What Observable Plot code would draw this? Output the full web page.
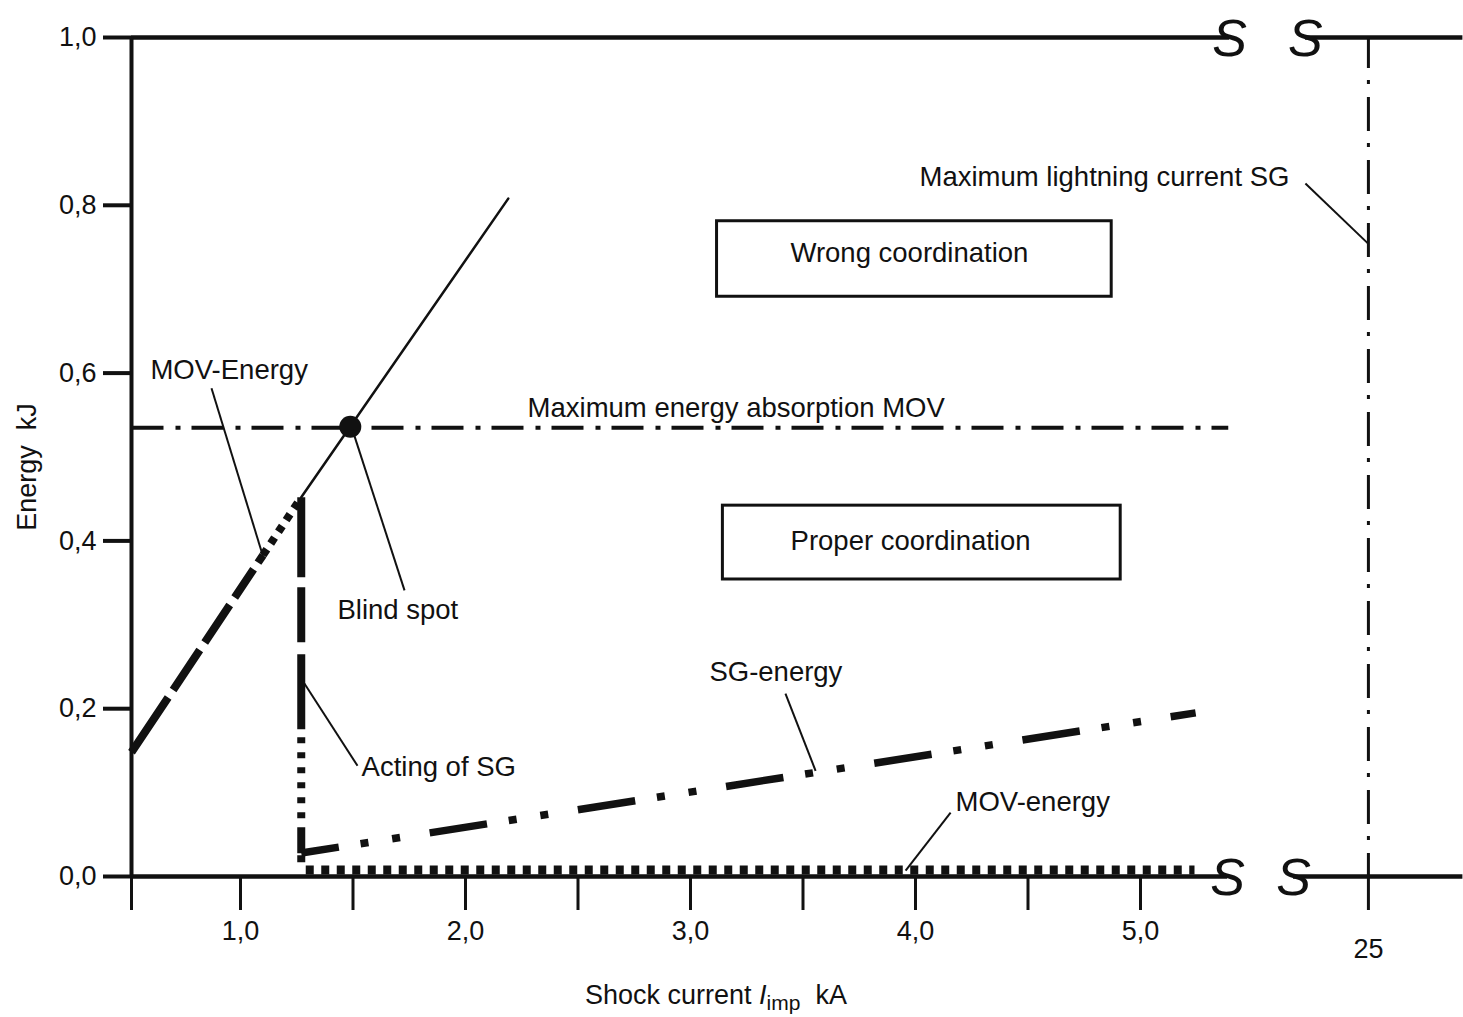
<!DOCTYPE html>
<html>
<head>
<meta charset="utf-8">
<script src="https://cdn.jsdelivr.net/npm/d3@7"></script>
<script src="https://cdn.jsdelivr.net/npm/@observablehq/plot@0.6"></script>
<style>
  html, body { margin: 0; padding: 0; background: #fff; }
  #chart { position: absolute; left: 0; top: 0; }
</style>
</head>
<body>
<div id="chart"></div>
<script>
// ---------- data (kA / kJ) ----------
const xBreakDomain = [0.5, 1.0, 5.6, 24.587, 25.42];   // broken axis: 5.6 … 24.587 collapsed
const yTicks = [0, 0.2, 0.4, 0.6, 0.8, 1.0];
const xMajorTicks = [1, 2, 3, 4, 5];
const xMinorTicks = [0.5, 1.5, 2.5, 3.5, 4.5];
const xFarTicks = [25];

const movRiseDashed = [{x: 0.5, y: 0.148}, {x: 1.10, y: 0.383}];
const movRiseDotted = [{x: 1.10, y: 0.383}, {x: 1.27, y: 0.452}];
const movRiseThin   = [{x: 1.27, y: 0.452}, {x: 2.19, y: 0.808}];
const sgActing      = [{x: 1.27, y: 0.452}, {x: 1.27, y: 0.015}];
const sgEnergy      = [{x: 1.27, y: 0.028}, {x: 5.245, y: 0.195}];
const movResidual   = [{x: 1.29, y: 0.0078}, {x: 5.24, y: 0.0078}];
const movMaxEnergy  = [{x: 0.5, y: 0.535}, {x: 5.39, y: 0.535}];
const sgMaxCurrent  = [25];
const blindSpot     = [{x: 1.488, y: 0.536}];

const boxX1 = [3.118, 3.144];
const boxX2 = [4.872, 4.912];
const boxY1 = [0.691, 0.354];
const boxY2 = [0.781, 0.442];
const boxText  = ["Wrong coordination", "Proper coordination"];
const boxTextX = [3.973, 3.978];
const boxTextY = [0.743, 0.400];

const labelText = ["MOV-Energy", "Maximum energy absorption MOV", "Blind spot", "Acting of SG",
                   "SG-energy", "MOV-energy", "Maximum lightning current SG"];
const labelX = [0.587, 2.276, 1.431, 1.538, 3.084, 4.178, 4.018];
const labelY = [0.603, 0.558, 0.317, 0.130, 0.244, 0.089, 0.833];

const leaderX1 = [0.867, 1.498, 1.284, 3.422, 4.156, 24.72];
const leaderY1 = [0.582, 0.532, 0.230, 0.218, 0.076, 0.826];
const leaderX2 = [1.102, 1.729, 1.520, 3.556, 3.956, 25.0];
const leaderY2 = [0.380, 0.341, 0.132, 0.126, 0.007, 0.754];

const frameX1 = [0.5, 24.667, 0.5, 24.72];
const frameX2 = [5.387, 25.42, 5.396, 25.42];
const frameY  = [0, 0, 1, 1];
const breakX  = [5.387, 24.667, 5.396, 24.72];
const breakY  = [0, 0, 1, 1];

// ---------- tables ----------
const boxes = boxX1.map((d, i) => ({x1: d, x2: boxX2[i], y1: boxY1[i], y2: boxY2[i], text: boxText[i], tx: boxTextX[i], ty: boxTextY[i]}));
const labels = labelText.map((t, i) => ({text: t, x: labelX[i], y: labelY[i]}));
const leaders = leaderX1.map((d, i) => ({x1: d, y1: leaderY1[i], x2: leaderX2[i], y2: leaderY2[i]}));
const frame = frameX1.map((d, i) => ({x1: d, x2: frameX2[i], y: frameY[i]}));
const breaks = breakX.map((d, i) => ({x: d, y: breakY[i]}));

const FONT = "'Liberation Sans', Arial, Helvetica, sans-serif";
const W = 1463, H = 1017;
const fmt = d => d.toFixed(1).replace(".", ",");
const butt = {strokeLinecap: "butt", strokeLinejoin: "miter"};

const chart = Plot.plot({
  width: W,
  height: H,
  marginTop: 37,
  marginBottom: 141,
  marginLeft: 131,
  marginRight: 1,
  style: {fontFamily: FONT, fontSize: "27px", color: "#111", background: "#fff"},
  x: {type: "linear", domain: xBreakDomain, range: [131, 240, 1275, 1275, 1462.4]},
  y: {domain: [0, 1]},
  marks: [
    // frame lines with breaks
    Plot.ruleY(frame, {y: "y", x1: "x1", x2: "x2", stroke: "#111", strokeWidth: 4.5}),
    Plot.ruleX([0.5], {y1: 0, y2: 1, stroke: "#111", strokeWidth: 4}),
    Plot.text(breaks, {x: "x", y: "y", text: d => "S", fontSize: 52, fontStyle: "italic", fill: "#111", fontFamily: FONT, dy: 2}),
    // axes
    Plot.axisY({ticks: yTicks, tickSize: 28, tickPadding: 7, tickFormat: fmt, fontSize: 27, strokeWidth: 4, label: null, fill: "#111"}),
    Plot.axisX({ticks: xMajorTicks, tickSize: 34, tickPadding: 10, tickFormat: fmt, fontSize: 27, strokeWidth: 3, label: null, fill: "#111"}),
    Plot.axisX({ticks: xMinorTicks, tickSize: 34, tickFormat: () => "", strokeWidth: 3, label: null}),
    Plot.axisX({ticks: xFarTicks, tickSize: 34, tickPadding: 28, tickFormat: d => String(d), fontSize: 27, strokeWidth: 3, label: null, fill: "#111"}),
    // boxes
    Plot.rect(boxes, {x1: "x1", x2: "x2", y1: "y1", y2: "y2", fill: "none", stroke: "#111", strokeWidth: 3}),
    Plot.text(boxes, {x: "tx", y: "ty", text: "text", fontSize: 27.5, fill: "#111"}),
    // reference lines
    Plot.line(movMaxEnergy, {x: "x", y: "y", stroke: "#111", strokeWidth: 4, strokeDasharray: "32,12,5,11", ...butt}),
    Plot.ruleX(sgMaxCurrent, {y1: 0, y2: 1, stroke: "#111", strokeWidth: 3, strokeDasharray: "34,13,4,12", strokeDashoffset: 11}),
    // MOV energy rising
    Plot.line(movRiseDashed, {x: "x", y: "y", stroke: "#111", strokeWidth: 8, strokeDasharray: "66,9,48,9,45,9,34,8", ...butt}),
    Plot.line(movRiseDotted, {x: "x", y: "y", stroke: "#111", strokeWidth: 8, strokeDasharray: "7,7", ...butt}),
    Plot.line(movRiseThin, {x: "x", y: "y", stroke: "#111", strokeWidth: 2.5}),
    // SG acting and SG energy
    Plot.line(sgActing, {x: "x", y: "y", stroke: "#111", strokeWidth: 8,
      strokeDasharray: "80,10,55,12,75,8,6,9,6,9,6,9,6,9,6,9,6,9,26,2,7,40", ...butt}),
    Plot.line(sgEnergy, {x: "x", y: "y", stroke: "#111", strokeWidth: 7.5, strokeDasharray: "58,22,8,24,8,30", strokeDashoffset: 20, ...butt}),
    // residual MOV energy
    Plot.line(movResidual, {x: "x", y: "y", stroke: "#111", strokeWidth: 9, strokeDasharray: "8,7.5", ...butt}),
    // blind spot
    Plot.dot(blindSpot, {x: "x", y: "y", r: 11, fill: "#111"}),
    // leaders and labels
    Plot.link(leaders, {x1: "x1", y1: "y1", x2: "x2", y2: "y2", stroke: "#111", strokeWidth: 2}),
    Plot.text(labels, {x: "x", y: "y", text: "text", textAnchor: "start", fontSize: 27.5, fill: "#111"})
  ]
});

const svg = d3.select(chart);
// y-axis title
svg.append("text")
  .attr("transform", "translate(27,467) rotate(-90)")
  .attr("text-anchor", "middle")
  .attr("dominant-baseline", "central")
  .attr("font-family", FONT).attr("font-size", 27).attr("fill", "#111")
  .attr("xml:space", "preserve")
  .text("Energy  kJ");
// x-axis title with italic I and subscript
const xt = svg.append("text")
  .attr("x", 585).attr("y", 1004)
  .attr("text-anchor", "start")
  .attr("font-family", FONT).attr("font-size", 27).attr("fill", "#111")
  .attr("xml:space", "preserve");
xt.append("tspan").text("Shock current ");
xt.append("tspan").attr("font-style", "italic").text("I");
xt.append("tspan").attr("font-size", 21).attr("dy", 6).text("imp");
xt.append("tspan").attr("dy", -6).text("  kA");

document.getElementById("chart").appendChild(chart);
</script>
</body>
</html>
